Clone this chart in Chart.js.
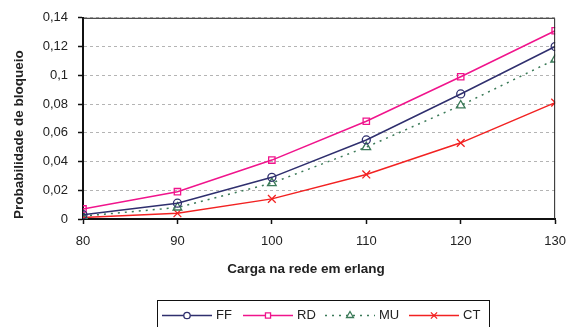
<!DOCTYPE html>
<html>
<head>
<meta charset="utf-8">
<script src="https://cdn.jsdelivr.net/npm/chart.js@4/dist/chart.umd.min.js"></script>
<style>
    html, body { margin: 0; padding: 0; background: #fff; }
    #wrap { width: 576px; height: 327px; }
</style>
</head>
<body>
<div id="wrap"><canvas id="chart" width="576" height="327"></canvas></div>
<script>
// Carga (erlang) e probabilidade de bloqueio por algoritmo
const loads = [80, 90, 100, 110, 120, 130];
const ffValues = [0.003, 0.011, 0.029, 0.055, 0.087, 0.120];
const rdValues = [0.007, 0.019, 0.041, 0.068, 0.099, 0.131];
const muValues = [0.002, 0.008, 0.025, 0.050, 0.079, 0.111];
const ctValues = [0.001, 0.004, 0.014, 0.031, 0.053, 0.081];
const yTickLabels = ['0', '0,02', '0,04', '0,06', '0,08', '0,1', '0,12', '0,14'];
const seriesNames = ['FF', 'RD', 'MU', 'CT'];
const xTitle = 'Carga na rede em erlang';

const FONT = "'Liberation Sans', Arial, sans-serif";

function toPoints(values) {
    return values.map((v, i) => ({ x: loads[i], y: v }));
}

// Moldura do gráfico (topo e direita) + título do eixo x
const frameBox = {
    id: 'frameBox',
    afterDatasetsDraw(chart) {
        const a = chart.chartArea;
        const ctx = chart.ctx;
        ctx.save();
        ctx.strokeStyle = '#222';
        ctx.lineWidth = 1;
        ctx.beginPath();
        ctx.moveTo(a.left, a.top + 0.5);
        ctx.lineTo(a.right - 0.5, a.top + 0.5);
        ctx.lineTo(a.right - 0.5, a.bottom);
        ctx.stroke();
        ctx.fillStyle = '#222';
        ctx.font = 'bold 13.5px ' + FONT;
        ctx.textAlign = 'center';
        ctx.textBaseline = 'middle';
        ctx.fillText(xTitle, 306, 269);
        ctx.restore();
    }
};

// Legenda em caixa, estilo planilha
const boxLegend = {
    id: 'boxLegend',
    afterDraw(chart) {
        const ctx = chart.ctx;
        const left = 157, top = 300, width = 332;
        const starts = [162, 243, 325, 409];
        const lineLen = 50;
        ctx.save();
        ctx.strokeStyle = '#111';
        ctx.lineWidth = 1;
        ctx.strokeRect(left + 0.5, top + 0.5, width, 40);
        const y = top + 15.5;
        chart.data.datasets.forEach((ds, i) => {
            const x0 = starts[i];
            ctx.save();
            ctx.strokeStyle = ds.borderColor;
            ctx.lineWidth = ds.borderWidth;
            ctx.setLineDash(ds.borderDash || []);
            ctx.beginPath();
            ctx.moveTo(x0, y);
            ctx.lineTo(x0 + lineLen, y);
            ctx.stroke();
            ctx.restore();
            ctx.save();
            ctx.strokeStyle = ds.borderColor;
            ctx.fillStyle = '#fff';
            ctx.lineWidth = ds.pointBorderWidth;
            Chart.helpers.drawPoint(ctx, {
                pointStyle: ds.pointStyle,
                radius: ds.pointRadius * 0.8,
                borderWidth: ds.pointBorderWidth
            }, x0 + lineLen / 2, y);
            ctx.restore();
            ctx.fillStyle = '#222';
            ctx.font = '13px ' + FONT;
            ctx.textBaseline = 'middle';
            ctx.textAlign = 'left';
            ctx.fillText(seriesNames[i], x0 + lineLen + 4, y);
        });
        ctx.restore();
    }
};

function makeDataset(label, values, color, style, dash, radius) {
    return {
        label: label,
        data: toPoints(values),
        borderColor: color,
        backgroundColor: '#fff',
        pointBorderColor: color,
        pointBackgroundColor: 'rgba(255,255,255,0)',
        borderWidth: 1.5,
        borderDash: dash,
        pointStyle: style,
        pointRadius: radius,
        pointBorderWidth: 1.3,
        tension: 0,
        fill: false
    };
}

new Chart(document.getElementById('chart').getContext('2d'), {
    type: 'line',
    data: {
        datasets: [
            makeDataset(seriesNames[0], ffValues, '#2f2f6e', 'circle', [], 4),
            makeDataset(seriesNames[1], rdValues, '#f0148c', 'rect', [], 4.5),
            makeDataset(seriesNames[2], muValues, '#3b7a58', 'triangle', [2, 5], 5),
            makeDataset(seriesNames[3], ctValues, '#f22222', 'crossRot', [], 5.5)
        ]
    },
    options: {
        responsive: false,
        animation: false,
        layout: { padding: { left: 0, right: 13, top: 17, bottom: 0 } },
        plugins: {
            legend: { display: false },
            tooltip: { enabled: false }
        },
        scales: {
            x: {
                type: 'linear',
                min: 80,
                max: 130,
                ticks: {
                    stepSize: 10,
                    color: '#222',
                    padding: 10,
                    font: { family: FONT, size: 13 },
                    maxRotation: 0
                },
                grid: {
                    drawOnChartArea: false,
                    drawTicks: true,
                    tickLength: 5,
                    tickColor: '#111',
                    tickWidth: 1.5
                },
                border: { display: true, color: '#111', width: 2 },
                afterFit(scale) { scale.height = 108; }
            },
            y: {
                min: 0,
                max: 0.14,
                ticks: {
                    stepSize: 0.02,
                    color: '#222',
                    padding: 10,
                    font: { family: FONT, size: 13 },
                    callback: function(value, index) { return yTickLabels[index]; }
                },
                grid: {
                    color: '#b4b4b4',
                    lineWidth: 1,
                    drawTicks: true,
                    tickLength: 5,
                    tickColor: '#111',
                    tickWidth: 1.5,
                    tickBorderDash: []
                },
                border: { display: true, color: '#111', width: 2, dash: [3, 3] },
                title: {
                    display: true,
                    text: 'Probabilidade de bloqueio',
                    align: 'start',
                    color: '#222',
                    font: { family: FONT, size: 13.5, weight: 'bold' },
                    padding: { top: 11, bottom: 0 }
                },
                afterFit(scale) { scale.width = 83; }
            }
        }
    },
    plugins: [frameBox, boxLegend]
});
</script>
</body>
</html>
